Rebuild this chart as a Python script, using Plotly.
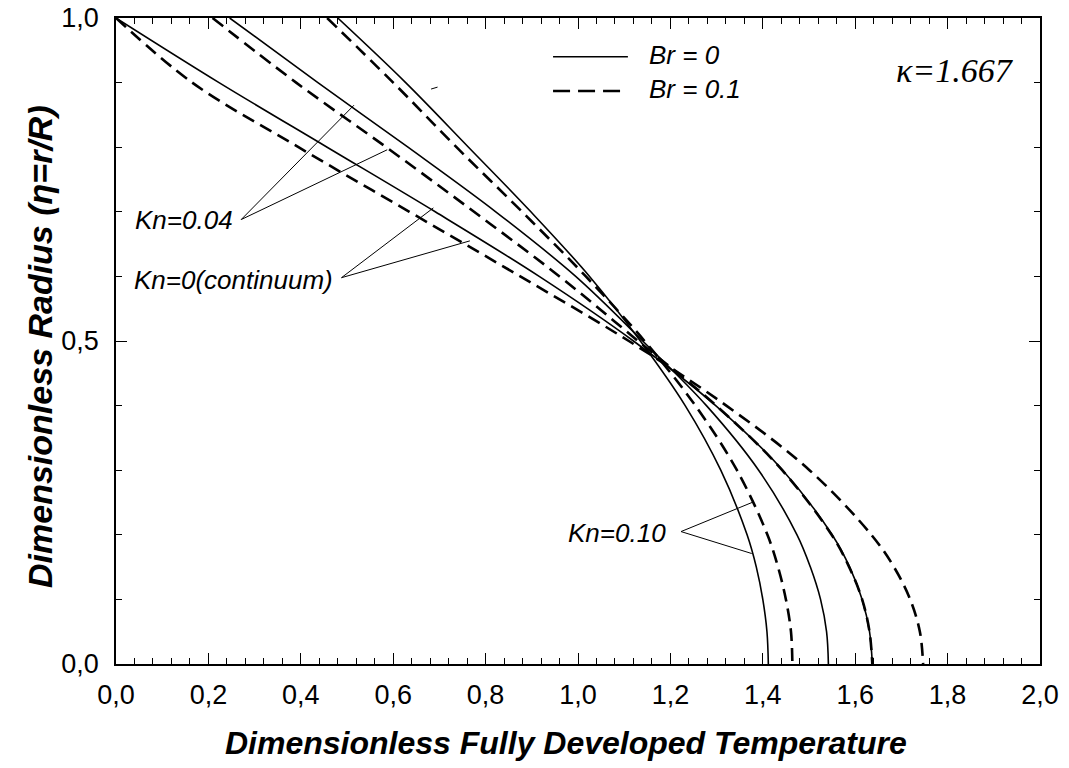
import plotly.graph_objects as go

# Dimensionless radius samples (wall -> centreline)
eta = [1.0, 0.9, 0.8, 0.7, 0.6, 0.5, 0.4, 0.3, 0.2, 0.15, 0.1, 0.05, 0.0]

# Fully developed temperature profiles, kappa = 1.667
theta_kn000_br00 = [0.000, 0.223, 0.457, 0.691, 0.916, 1.120, 1.298, 1.443, 1.550, 1.588, 1.615, 1.631, 1.637]
theta_kn000_br01 = [0.000, 0.165, 0.395, 0.635, 0.875, 1.110, 1.321, 1.501, 1.635, 1.684, 1.719, 1.740, 1.747]
theta_kn004_br00 = [0.246, 0.437, 0.632, 0.822, 0.995, 1.140, 1.278, 1.391, 1.474, 1.503, 1.525, 1.538, 1.542]
theta_kn004_br01 = [0.209, 0.390, 0.585, 0.775, 0.960, 1.130, 1.299, 1.442, 1.549, 1.587, 1.615, 1.631, 1.637]
theta_kn010_br00 = [0.480, 0.627, 0.763, 0.898, 1.025, 1.135, 1.232, 1.309, 1.366, 1.386, 1.400, 1.409, 1.412]
theta_kn010_br01 = [0.457, 0.600, 0.737, 0.879, 1.017, 1.144, 1.254, 1.344, 1.410, 1.433, 1.450, 1.461, 1.464]

x_ticks = [0.0, 0.2, 0.4, 0.6, 0.8, 1.0, 1.2, 1.4, 1.6, 1.8, 2.0]
y_ticks = [0.0, 0.5, 1.0]

FONT = "Liberation Sans, Arial, sans-serif"
SOLID = dict(color="black", width=1.6)
DASHED = dict(color="black", width=2.6, dash="13px,7px")

fig = go.Figure()
series = [
    (theta_kn000_br00, SOLID), (theta_kn000_br01, DASHED),
    (theta_kn004_br00, SOLID), (theta_kn004_br01, DASHED),
    (theta_kn010_br00, SOLID), (theta_kn010_br01, DASHED),
]
for theta, style in series:
    fig.add_trace(go.Scatter(x=theta, y=eta, mode="lines",
                             line=dict(shape="spline", smoothing=1.0, **style),
                             showlegend=False, hoverinfo="skip"))

# Leader lines from the labels to their curves
leaders = [
    ((0.271, 0.688), (0.515, 0.865)),
    ((0.271, 0.688), (0.587, 0.796)),
    ((0.488, 0.598), (0.687, 0.706)),
    ((0.488, 0.598), (0.766, 0.655)),
    ((1.223, 0.205), (1.380, 0.251)),
    ((1.223, 0.205), (1.376, 0.171)),
    ((0.682, 0.890), (0.696, 0.893)),
]
shapes = []
for (x0, y0), (x1, y1) in leaders:
    shapes.append(dict(type="line", xref="x", yref="y", x0=x0, y0=y0, x1=x1, y1=y1,
                       line=dict(color="black", width=1)))

# Legend samples
shapes.append(dict(type="line", xref="x", yref="y", x0=0.946, x1=1.108, y0=0.940, y1=0.940,
                   line=dict(color="black", width=1.6)))
shapes.append(dict(type="line", xref="x", yref="y", x0=0.946, x1=1.095, y0=0.887, y1=0.887,
                   line=dict(color="black", width=2.6, dash="17px,8px")))

label_font = dict(family=FONT, size=26, color="black")
annotations = [
    dict(x=1.150, y=0.943, text="<i>Br = 0</i>", xanchor="left", yanchor="middle", showarrow=False, font=label_font),
    dict(x=1.150, y=0.890, text="<i>Br = 0.1</i>", xanchor="left", yanchor="middle", showarrow=False, font=label_font),
    dict(x=0.258, y=0.688, text="<i>Kn=0.04</i>", xanchor="right", yanchor="middle", showarrow=False, font=label_font),
    dict(x=0.474, y=0.594, text="<i>Kn=0(continuum)</i>", xanchor="right", yanchor="middle", showarrow=False, font=label_font),
    dict(x=1.195, y=0.203, text="<i>Kn=0.10</i>", xanchor="right", yanchor="middle", showarrow=False, font=label_font),
    dict(x=1.817, y=0.918, text="<i>κ=1.667</i>", xanchor="center", yanchor="middle", showarrow=False,
         font=dict(family="Liberation Serif, Times New Roman, serif", size=34, color="black")),
    dict(x=0.5, y=0, xref="paper", yref="paper", xshift=-12, yshift=-79,
         text="<b><i>Dimensionless Fully Developed Temperature</i></b>",
         showarrow=False, xanchor="center", yanchor="middle", font=dict(family=FONT, size=32, color="black")),
    dict(x=0, y=0.5, xref="paper", yref="paper", xshift=-76, yshift=-6,
         text="<b><i>Dimensionless Radius (η=r/R)</i></b>",
         textangle=-90, showarrow=False, xanchor="center", yanchor="middle", font=dict(family=FONT, size=34, color="black")),
]

axis_common = dict(showgrid=False, zeroline=False, showline=True, linecolor="black", linewidth=1.5,
                   mirror="allticks", ticks="inside", ticklen=11, tickwidth=1, tickcolor="black",
                   automargin=False,
                   tickformat=".1f", tickfont=dict(family=FONT, size=27, color="black"))

fig.update_layout(
    width=1069, height=768,
    margin=dict(l=116, r=29, t=18, b=104, autoexpand=False),
    paper_bgcolor="white", plot_bgcolor="white",
    separators=",.",
    shapes=shapes, annotations=annotations,
    xaxis=dict(range=[0, 2], tickvals=x_ticks, ticklabelstandoff=6,
               minor=dict(dtick=0.04, ticks="inside", ticklen=6, tickwidth=1, tickcolor="black"),
               **axis_common),
    yaxis=dict(range=[0, 1], tickvals=y_ticks, ticklabelstandoff=10,
               minor=dict(dtick=0.1, ticks="inside", ticklen=6, tickwidth=1, tickcolor="black"),
               **axis_common),
)

fig.write_html("out.html")
